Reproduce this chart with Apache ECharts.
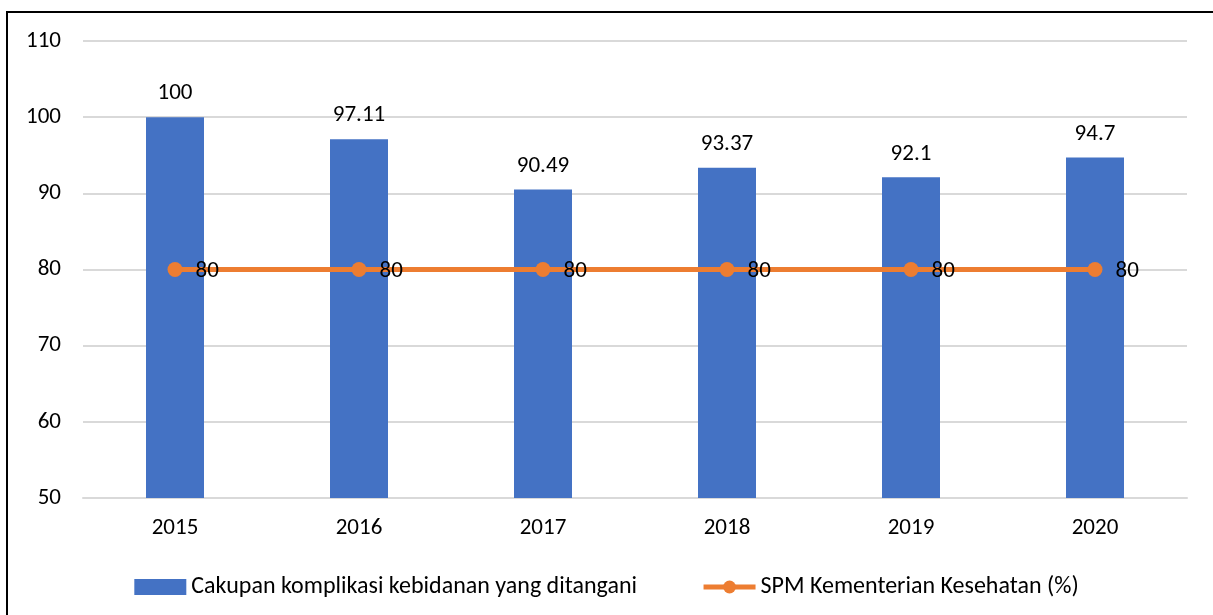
<!DOCTYPE html>
<html>
<head>
<meta charset="utf-8">
<script src="https://cdn.jsdelivr.net/npm/echarts@6/dist/echarts.min.js"></script>
<style>
html,body{margin:0;padding:0;background:#fff;}
#chart{position:absolute;left:0;top:0;width:1213px;height:615px;}
#frame{position:absolute;left:6px;top:11px;width:1300px;height:700px;border-top:2px solid #000;border-left:2px solid #000;pointer-events:none;}
</style>
</head>
<body>
<div id="chart"></div>
<div id="frame"></div>
<script>
const categories = ['2015','2016','2017','2018','2019','2020'];
const coverage = [100, 97.11, 90.49, 93.37, 92.1, 94.7];
const target = [80, 80, 80, 80, 80, 80];
const yTicks = [50, 60, 70, 80, 90, 100, 110];
const seriesNames = ['Cakupan komplikasi kebidanan yang ditangani', 'SPM Kementerian Kesehatan (%)'];

const FONT = 'Carlito, Lato, sans-serif';
const FS = 23;
const chart = echarts.init(document.getElementById('chart'), null, {renderer:'canvas'});
chart.setOption({
  animation:false,
  textStyle:{fontFamily:FONT},
  grid:{left:83, right:26, top:41, bottom:117},
  legend:{
    top:570, left:'center',
    itemWidth:52, itemHeight:16, itemGap:64,
    textStyle:{fontSize:24, color:'#000', fontFamily:FONT},
    lineStyle:{width:5},
    data:[
      {name:seriesNames[0], icon:'rect', itemStyle:{}},
      {name:seriesNames[1]}
    ]
  },
  xAxis:{
    type:'category', data:categories,
    axisLine:{lineStyle:{color:'#d9d9d9', width:2}},
    axisTick:{show:false},
    axisLabel:{fontSize:FS, color:'#000', margin:19, fontFamily:FONT}
  },
  yAxis:{
    type:'value', min:yTicks[0], max:yTicks[yTicks.length-1], interval:10,
    axisLine:{show:false}, axisTick:{show:false},
    splitLine:{lineStyle:{color:'#d9d9d9', width:2}},
    axisLabel:{fontSize:FS, color:'#000', margin:22, fontFamily:FONT}
  },
  series:[
    {
      name:seriesNames[0], type:'bar', data:coverage, barWidth:58,
      itemStyle:{color:'#4472C4'},
      label:{show:true, position:'top', distance:12, fontSize:FS, color:'#000', fontFamily:FONT}
    },
    {
      name:seriesNames[1], type:'line', data:target,
      symbol:'circle', symbolSize:15,
      lineStyle:{color:'#ED7D31', width:5},
      itemStyle:{color:'#ED7D31'},
      label:{show:true, position:'right', distance:13, offset:[0,2], fontSize:FS, color:'#000', fontFamily:FONT}
    }
  ]
});
</script>
</body>
</html>
